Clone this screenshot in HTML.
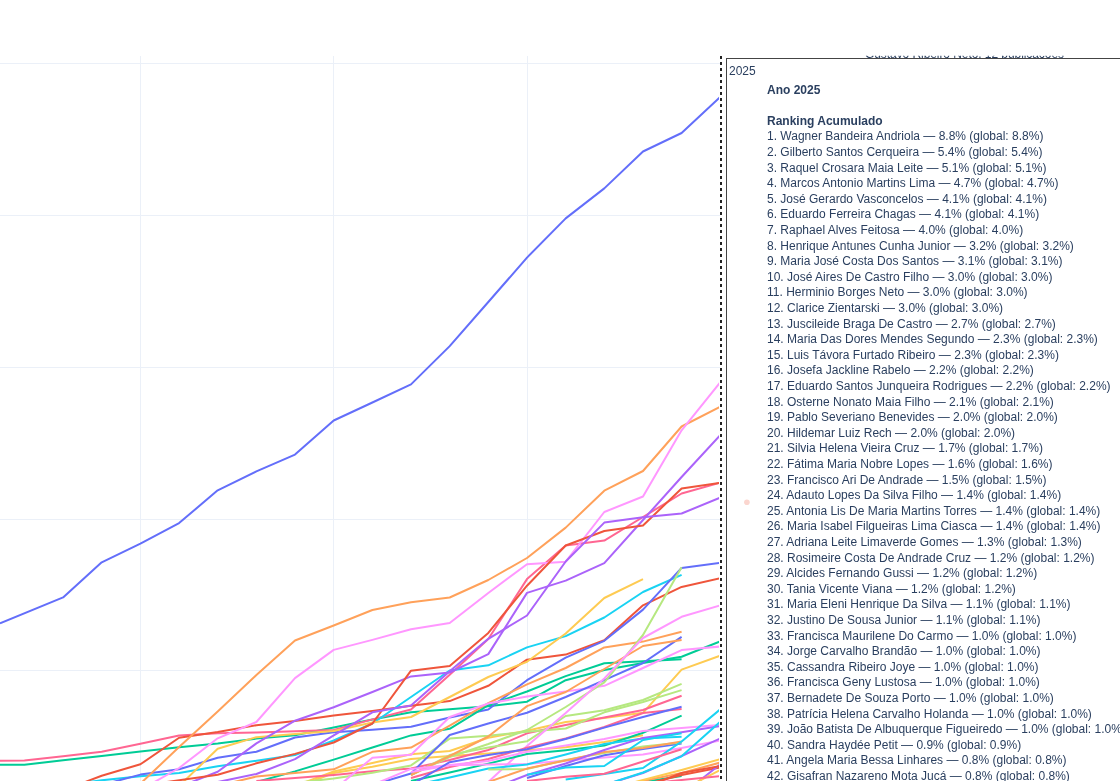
<!DOCTYPE html><html><head><meta charset="utf-8"><title>Ranking Acumulado</title><style>html,body{margin:0;padding:0;background:#fff;width:1120px;height:781px;overflow:hidden}svg{position:absolute;left:0;top:0;display:block;will-change:transform}text{font-family:"Liberation Sans",Arial,sans-serif;font-size:12px;fill:#2a3f5f;white-space:pre}.b{font-weight:bold}</style></head><body>
<svg width="1120" height="781" viewBox="0 0 1120 781">
<path d="M0 63.5 H720 M0 215.5 H720 M0 367.5 H720 M0 519.5 H720 M0 670.5 H720 M140.5 56 V781 M333.5 56 V781 M527.5 56 V781" stroke="#EBF0F8" stroke-width="1" fill="none"/>
<clipPath id="pc"><rect x="0" y="56" width="719" height="800"/></clipPath>
<g clip-path="url(#pc)" fill="none" stroke-width="2" stroke-linejoin="round" stroke-linecap="butt">
<path d="M0 764.8 L24.4 764.8 L63.1 760.3 L101.7 755.9 L140.4 751.4 L179.1 747.3 L217.7 743.5 L256.4 738.6 L295 735.3 L333.7 727.5 L372.4 719.4 L411 712.2 L449.7 709.3 L488.3 706.2 L527 701.7 L565.7 680.2 L604.3 670 L643 663 L681.6 656.8 L720.3 641.4" stroke="#00cc96"/>
<path d="M0 760.8 L24.4 760.6 L63.1 756.2 L101.7 751.7 L140.4 743.8 L179.1 735.5 L217.7 733.2 L256.4 732.5 L295 731.2 L333.7 730 L372.4 719.4 L411 709.5 L449.7 674.7 L488.3 639 L527 579.1 L565.7 545.5 L604.3 540.6 L643 517 L681.6 493.5 L720.3 482.7" stroke="#FF6692"/>
<path d="M80 784 L101.7 775.7 L140.4 764.3 L179.1 737.7 L217.7 732 L256.4 725.2 L295 721 L333.7 715.6 L372.4 711 L411 705.8 L449.7 701.1 L488.3 685.8 L527 659.7 L565.7 654.6 L604.3 640.2 L643 605.3 L681.6 586.9 L720.3 578.2" stroke="#EF553B"/>
<path d="M78 783.5 L101.7 780.3 L140.4 776.3 L179.1 773 L217.7 766.2 L256.4 760.8 L295 755 L333.7 740.5 L372.4 723.5 L411 697 L449.7 670.5 L488.3 665.3 L527 647.4 L565.7 636.1 L604.3 617.5 L643 592 L681.6 574.8" stroke="#19d3f3"/>
<path d="M101.7 785 L140.4 774.6 L179.1 769.3 L217.7 757.8 L256.4 751.8 L295 737.5 L333.7 732.2 L372.4 729.7 L411 726.7 L449.7 717.5 L488.3 709.5 L527 680.2 L565.7 657.7 L604.3 640.8 L643 609.6 L681.6 567.9 L720.3 562.9" stroke="#636efa"/>
<path d="M140.4 783.7 L179.1 747 L217.7 711.4 L256.4 675 L295 640.5 L333.7 625.5 L372.4 610 L411 602.3 L449.7 597.5 L488.3 580 L527 558 L565.7 527.6 L604.3 490.7 L643 471 L681.6 426.5 L720.3 406.8" stroke="#FFA15A"/>
<path d="M140.4 790 L179.1 768 L217.7 738.3 L256.4 722 L295 678.1 L333.7 649.9 L372.4 639.9 L411 629.2 L449.7 623 L488.3 593 L527 564.2 L565.7 561.7 L604.3 512 L643 496.5 L681.6 430.3 L720.3 382.3" stroke="#FF97FF"/>
<path d="M179.1 786 L217.7 748.7 L256.4 737.2 L295 734 L333.7 731 L372.4 722.5 L411 717 L449.7 697 L488.3 677 L527 661.8 L565.7 633.5 L604.3 598 L643 579.1" stroke="#FECB52"/>
<path d="M179.1 787 L217.7 771.7 L256.4 743.4 L295 720.7 L333.7 707.3 L372.4 692 L411 676.4 L449.7 672.5 L488.3 654.1 L527 592.9 L565.7 580.6 L604.3 563.2 L643 520 L681.6 477 L720.3 435" stroke="#ab63fa"/>
<path d="M160 783 L217.7 774.7 L256.4 763.3 L295 753.9 L333.7 742.5 L372.4 723.5 L411 670.7 L449.7 665.9 L488.3 632.9 L527 585.7 L565.7 545.5 L604.3 531 L643 525.5 L681.6 488.5 L720.3 482.7" stroke="#EF553B"/>
<path d="M217.7 782 L256.4 774 L295 759.1 L333.7 735.3 L372.4 712.3 L411 705.5 L449.7 671.3 L488.3 638.8 L527 615.5 L565.7 561.5 L604.3 522.6 L643 517.3 L681.6 513.5 L720.3 497.6" stroke="#ab63fa"/>
<path d="M256.4 782 L295 771.4 L333.7 759.6 L372.4 747.5 L411 735.4 L449.7 728.8 L488.3 705.2 L527 691.5 L565.7 676.1 L604.3 663.3 L643 661.3 L681.6 659.3" stroke="#00cc96"/>
<path d="M217.7 786 L256.4 776.5 L295 773.1 L333.7 769.3 L372.4 751.8 L411 747.6 L449.7 725.7 L488.3 703.2 L527 684.3 L565.7 668 L604.3 647.4 L643 641.6 L681.6 631.7" stroke="#FFA15A"/>
<path d="M295 786 L333.7 771.5 L372.4 763 L411 754.2 L449.7 751 L488.3 737.7 L527 730.7 L565.7 722 L604.3 717.9 L643 712.8 L681.6 669.6 L720.3 655.7" stroke="#FECB52"/>
<path d="M295 788 L333.7 773 L372.4 766.8 L411 759 L449.7 756 L488.3 753.5 L527 750.2 L565.7 747.3 L604.3 742 L643 735.3" stroke="#FECB52"/>
<path d="M256.4 781 L295 778 L333.7 775 L372.4 771.3 L411 768.5 L449.7 760 L488.3 750 L527 733.3 L565.7 725 L604.3 717.4 L643 710 L681.6 695.7" stroke="#FF6692"/>
<path d="M295 783 L333.7 778.5 L372.4 772.8 L411 765.4 L449.7 738.6 L488.3 735.8 L527 731.7 L565.7 728.5 L604.3 712.3 L643 702 L681.6 690.1" stroke="#B6E880"/>
<path d="M411 775 L449.7 755.1 L488.3 747.5 L527 741.3 L565.7 716 L604.3 710.2 L643 700 L681.6 683.9" stroke="#B6E880"/>
<path d="M333.7 790 L372.4 757.8 L411 754.8 L449.7 717 L488.3 703.5 L527 696.6 L565.7 691.5 L604.3 685.8 L643 668 L681.6 650.1 L720.3 646.5" stroke="#FF97FF"/>
<path d="M372.4 785 L411 773.5 L449.7 735 L488.3 723.5 L527 712.8 L565.7 697 L604.3 680.2 L643 663 L681.6 636.8" stroke="#636efa"/>
<path d="M411 775 L449.7 757 L488.3 744 L527 730 L565.7 707 L604.3 682.3 L643 635 L681.6 567.3" stroke="#B6E880"/>
<path d="M411 775 L449.7 756 L488.3 736.5 L527 706.1 L565.7 692 L604.3 669 L643 646 L681.6 639.9" stroke="#FFA15A"/>
<path d="M488.3 782 L527 746 L565.7 713 L604.3 678.5 L643 638 L681.6 616.8 L720.3 605.3" stroke="#FF97FF"/>
<path d="M411 781 L449.7 772.5 L488.3 763.6 L527 754 L565.7 750.2 L604.3 745.6 L643 732.8 L681.6 715.6" stroke="#00cc96"/>
<path d="M411 778 L449.7 767 L488.3 759 L527 747.6 L565.7 738.5 L604.3 727 L643 713 L681.6 709.1" stroke="#FF6692"/>
<path d="M372.4 785 L411 768.9 L449.7 765 L488.3 761 L527 751.7 L565.7 745.5 L604.3 738.9 L643 731 L681.6 728 L720.3 724.9" stroke="#FF97FF"/>
<path d="M411 772 L449.7 765.2 L488.3 764.5 L527 764 L565.7 760.5 L604.3 757.4 L643 754.5 L681.6 748 L720.3 740.5" stroke="#FF97FF"/>
<path d="M411 786 L449.7 777.5 L488.3 768.5 L527 764.5 L565.7 754.5 L604.3 744 L643 738.5 L681.6 736.8" stroke="#19d3f3"/>
<path d="M411 785 L449.7 762.2 L488.3 755 L527 749.2 L565.7 739 L604.3 727.6 L643 717 L681.6 706.7" stroke="#636efa"/>
<path d="M527 778 L565.7 766 L604.3 755.3 L643 749 L681.6 743.6" stroke="#636efa"/>
<path d="M488.3 769.5 L527 769 L565.7 760 L604.3 753 L643 746.5 L681.6 742.5" stroke="#B6E880"/>
<path d="M488.3 782 L527 768.6 L565.7 760.4 L604.3 752 L643 748 L681.6 741.5" stroke="#FFA15A"/>
<path d="M488.3 790 L527 775 L565.7 763.5 L604.3 750 L643 737.9 L681.6 732.2 L720.3 726" stroke="#ab63fa"/>
<path d="M527 774.8 L565.7 767.6 L604.3 766 L643 740 L681.6 733.2" stroke="#19d3f3"/>
<path d="M565.7 779.5 L604.3 774 L643 768 L681.6 741.5 L720.3 709.3" stroke="#19d3f3"/>
<path d="M527 781 L565.7 776.8 L604.3 773.7 L643 761.5 L681.6 749.3" stroke="#FF6692"/>
<path d="M604.3 790 L643 782 L681.6 776" stroke="#00cc96"/>
<path d="M643 781 L681.6 773 L720.3 762.5" stroke="#FFA15A"/>
<path d="M604.3 785 L643 773 L681.6 756 L720.3 738.4" stroke="#ab63fa"/>
<path d="M604.3 785 L643 772.5 L681.6 756.3 L720.3 721.8" stroke="#19d3f3"/>
<path d="M604.3 790 L643 780 L681.6 770 L720.3 759.1" stroke="#FECB52"/>
<path d="M604.3 795 L643 785 L681.6 775 L720.3 767.4" stroke="#EF553B"/>
<path d="M643 820 L681.6 795 L720.3 764.3" stroke="#ab63fa"/>
<path d="M643 788 L681.6 773 L720.3 766" stroke="#EF553B"/>
<path d="M643 800 L681.6 790 L720.3 770" stroke="#FECB52"/>
<path d="M604.3 790 L643 784 L681.6 780 L720.3 776" stroke="#FF6692"/>
<path d="M0 623.4 L63.1 597.4 L101.7 562.3 L140.4 543.7 L179.1 523.1 L217.7 490.3 L256.4 471.4 L295 454.6 L333.7 420.5 L372.4 402.5 L411 384.4 L449.7 346.1 L488.3 302 L527 257.6 L565.7 218.4 L604.3 188.4 L643 151.5 L681.6 133 L720.3 97" stroke="#636efa"/>
</g>
<path d="M721 56 V790" stroke="#222" stroke-width="2" stroke-dasharray="3 3"/>
<clipPath id="cp"><rect x="800" y="55.8" width="320" height="2.2"/></clipPath>
<text x="865" y="57.6" clip-path="url(#cp)" textLength="199">Gustavo Ribeiro Neto, 12 publicações</text>
<rect x="726.5" y="58.5" width="500" height="900" fill="#fff" stroke="#444" stroke-width="1"/>
<circle cx="746.9" cy="502.3" r="2.8" fill="#fbd6cf"/>
<text x="729" y="74.9">2025</text>
<text class="b" x="767" y="93.6">Ano 2025</text>
<text class="b" x="767" y="124.8">Ranking Acumulado</text>
<text x="767" y="140.4">1. Wagner Bandeira Andriola — 8.8% (global: 8.8%)</text>
<text x="767" y="156">2. Gilberto Santos Cerqueira — 5.4% (global: 5.4%)</text>
<text x="767" y="171.6">3. Raquel Crosara Maia Leite — 5.1% (global: 5.1%)</text>
<text x="767" y="187.2">4. Marcos Antonio Martins Lima — 4.7% (global: 4.7%)</text>
<text x="767" y="202.8">5. José Gerardo Vasconcelos — 4.1% (global: 4.1%)</text>
<text x="767" y="218.4">6. Eduardo Ferreira Chagas — 4.1% (global: 4.1%)</text>
<text x="767" y="234">7. Raphael Alves Feitosa — 4.0% (global: 4.0%)</text>
<text x="767" y="249.6">8. Henrique Antunes Cunha Junior — 3.2% (global: 3.2%)</text>
<text x="767" y="265.2">9. Maria José Costa Dos Santos — 3.1% (global: 3.1%)</text>
<text x="767" y="280.8">10. José Aires De Castro Filho — 3.0% (global: 3.0%)</text>
<text x="767" y="296.4">11. Herminio Borges Neto — 3.0% (global: 3.0%)</text>
<text x="767" y="312">12. Clarice Zientarski — 3.0% (global: 3.0%)</text>
<text x="767" y="327.6">13. Juscileide Braga De Castro — 2.7% (global: 2.7%)</text>
<text x="767" y="343.2">14. Maria Das Dores Mendes Segundo — 2.3% (global: 2.3%)</text>
<text x="767" y="358.8">15. Luis Távora Furtado Ribeiro — 2.3% (global: 2.3%)</text>
<text x="767" y="374.4">16. Josefa Jackline Rabelo — 2.2% (global: 2.2%)</text>
<text x="767" y="390">17. Eduardo Santos Junqueira Rodrigues — 2.2% (global: 2.2%)</text>
<text x="767" y="405.6">18. Osterne Nonato Maia Filho — 2.1% (global: 2.1%)</text>
<text x="767" y="421.2">19. Pablo Severiano Benevides — 2.0% (global: 2.0%)</text>
<text x="767" y="436.8">20. Hildemar Luiz Rech — 2.0% (global: 2.0%)</text>
<text x="767" y="452.4">21. Silvia Helena Vieira Cruz — 1.7% (global: 1.7%)</text>
<text x="767" y="468">22. Fátima Maria Nobre Lopes — 1.6% (global: 1.6%)</text>
<text x="767" y="483.6">23. Francisco Ari De Andrade — 1.5% (global: 1.5%)</text>
<text x="767" y="499.2">24. Adauto Lopes Da Silva Filho — 1.4% (global: 1.4%)</text>
<text x="767" y="514.8">25. Antonia Lis De Maria Martins Torres — 1.4% (global: 1.4%)</text>
<text x="767" y="530.4">26. Maria Isabel Filgueiras Lima Ciasca — 1.4% (global: 1.4%)</text>
<text x="767" y="546">27. Adriana Leite Limaverde Gomes — 1.3% (global: 1.3%)</text>
<text x="767" y="561.6">28. Rosimeire Costa De Andrade Cruz — 1.2% (global: 1.2%)</text>
<text x="767" y="577.2">29. Alcides Fernando Gussi — 1.2% (global: 1.2%)</text>
<text x="767" y="592.8">30. Tania Vicente Viana — 1.2% (global: 1.2%)</text>
<text x="767" y="608.4">31. Maria Eleni Henrique Da Silva — 1.1% (global: 1.1%)</text>
<text x="767" y="624">32. Justino De Sousa Junior — 1.1% (global: 1.1%)</text>
<text x="767" y="639.6">33. Francisca Maurilene Do Carmo — 1.0% (global: 1.0%)</text>
<text x="767" y="655.2">34. Jorge Carvalho Brandão — 1.0% (global: 1.0%)</text>
<text x="767" y="670.8">35. Cassandra Ribeiro Joye — 1.0% (global: 1.0%)</text>
<text x="767" y="686.4">36. Francisca Geny Lustosa — 1.0% (global: 1.0%)</text>
<text x="767" y="702">37. Bernadete De Souza Porto — 1.0% (global: 1.0%)</text>
<text x="767" y="717.6">38. Patrícia Helena Carvalho Holanda — 1.0% (global: 1.0%)</text>
<text x="767" y="733.2">39. João Batista De Albuquerque Figueiredo — 1.0% (global: 1.0%)</text>
<text x="767" y="748.8">40. Sandra Haydée Petit — 0.9% (global: 0.9%)</text>
<text x="767" y="764.4">41. Angela Maria Bessa Linhares — 0.8% (global: 0.8%)</text>
<text x="767" y="780">42. Gisafran Nazareno Mota Jucá — 0.8% (global: 0.8%)</text>
</svg></body></html>
